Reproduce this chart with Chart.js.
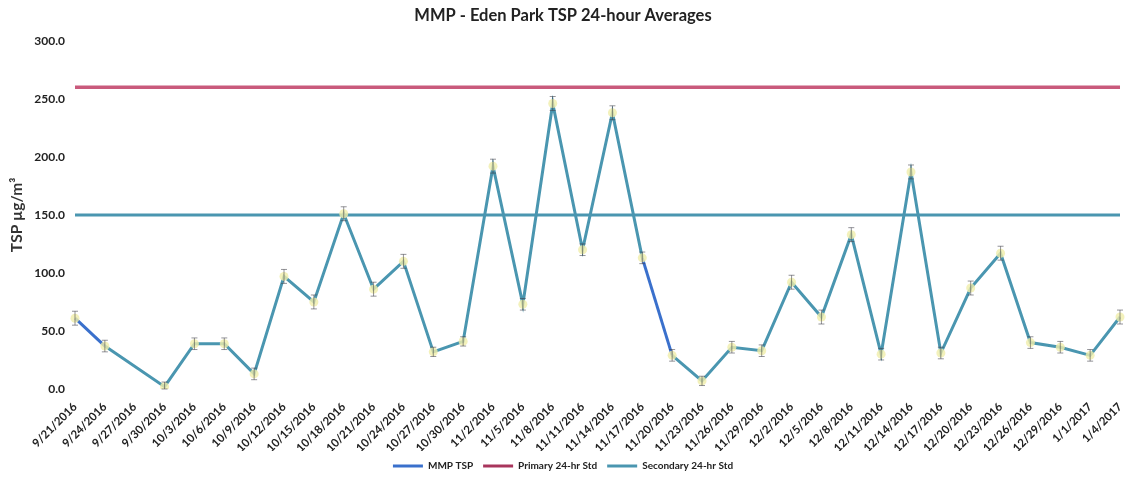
<!DOCTYPE html>
<html>
<head>
<meta charset="utf-8">
<script src="https://cdn.jsdelivr.net/npm/chart.js@4"></script>
<style>
    html, body { margin: 0; padding: 0; background: #fff; }
    #wrap { width: 1127px; height: 481px; }
</style>
</head>
<body>
<div id="wrap"><canvas id="chart-tsp"></canvas></div>
<script>
// Data
const dates = ["9/21/2016","9/24/2016","9/27/2016","9/30/2016","10/3/2016","10/6/2016","10/9/2016","10/12/2016","10/15/2016","10/18/2016","10/21/2016","10/24/2016","10/27/2016","10/30/2016","11/2/2016","11/5/2016","11/8/2016","11/11/2016","11/14/2016","11/17/2016","11/20/2016","11/23/2016","11/26/2016","11/29/2016","12/2/2016","12/5/2016","12/8/2016","12/11/2016","12/14/2016","12/17/2016","12/20/2016","12/23/2016","12/26/2016","12/29/2016","1/1/2017","1/4/2017"];
const tsp = [61, 37, null, 2, 39, 39, 13, 97, 75, 151, 86, 110, 32, 41, 192, 73, 246, 120, 238, 113, 29, 7, 36, 33, 92, 62, 133, 30, 187, 31, 87, 117, 40, 36, 29, 62];
// +/- error shown as small bars
const tspErr = [6, 5, null, 4, 5, 5, 5, 6, 6, 6, 6, 6, 4, 4, 6, 5, 6, 5, 6, 5, 5, 4, 5, 5, 6, 6, 6, 5, 6, 5, 6, 6, 5, 5, 5, 6];
const primaryStd = 260;
const secondaryStd = 150;
// segments that show in the darker blue
const blueSegments = [0, 19];

const FONT = "Lato, 'Liberation Sans', sans-serif";
Chart.defaults.font.family = FONT;
Chart.defaults.color = "#222";

const legendColors = ["#3a70cc", "#a8355c", "#4a96b0"];

// legend items drawn as short lines
function legendLabels(chart) {
    const items = Chart.defaults.plugins.legend.labels.generateLabels(chart);
    items.forEach((item, i) => {
        item.strokeStyle = legendColors[i];
        item.fillStyle = legendColors[i];
        item.lineWidth = 3;
        item.pointStyle = "line";
    });
    return items;
}

// small error bars on the TSP points
const errorBars = {
    id: "errorBars",
    afterDatasetsDraw(chart) {
        const ctx = chart.ctx;
        const y = chart.scales.y;
        const meta = chart.getDatasetMeta(0);
        ctx.save();
        ctx.strokeStyle = "rgba(60,60,70,0.55)";
        ctx.lineWidth = 1;
        meta.data.forEach((pt, i) => {
            if (tsp[i] == null || tspErr[i] == null) return;
            const top = y.getPixelForValue(tsp[i] + tspErr[i]);
            const bot = y.getPixelForValue(Math.max(0, tsp[i] - tspErr[i]));
            ctx.beginPath();
            ctx.moveTo(pt.x, top); ctx.lineTo(pt.x, bot);
            ctx.moveTo(pt.x - 3, top); ctx.lineTo(pt.x + 3, top);
            ctx.moveTo(pt.x - 3, bot); ctx.lineTo(pt.x + 3, bot);
            ctx.stroke();
        });
        ctx.restore();
    }
};

function createLineChart(canvasID) {
    const ctx = document.getElementById(canvasID).getContext('2d');

    const myChart = new Chart(ctx, {
        type: "line",
        data: {
            labels: dates,
            datasets: [{
                label: "MMP TSP",
                data: tsp,
                borderColor: "#4a96b0",
                backgroundColor: "rgba(240,238,170,0.8)",
                borderWidth: 3,
                pointRadius: 4.5,
                pointBorderWidth: 0,
                pointHoverRadius: 5,
                spanGaps: true,
                tension: 0,
                order: 0,
                segment: {
                    borderColor: c => blueSegments.includes(c.p0DataIndex) ? "#3a70cc" : undefined
                }
            }, {
                label: "Primary 24-hr Std",
                data: dates.map(() => primaryStd),
                borderColor: "#c95a7c",
                backgroundColor: "#c95a7c",
                borderWidth: 3.5,
                pointRadius: 0,
                order: 1
            }, {
                label: "Secondary 24-hr Std",
                data: dates.map(() => secondaryStd),
                borderColor: "#4a96b0",
                backgroundColor: "#4a96b0",
                borderWidth: 3,
                pointRadius: 0,
                order: 2
            }]
        },
        options: {
            responsive: true,
            maintainAspectRatio: false,
            animation: false,
            layout: {
                padding: { left: 6, right: 7, top: 0, bottom: 0 }
            },
            plugins: {
                title: {
                    display: true,
                    text: "MMP - Eden Park TSP 24-hour Averages",
                    font: { size: 16.5, weight: "bold" },
                    color: "#222",
                    padding: { top: 6, bottom: 15 }
                },
                legend: {
                    position: "bottom",
                    labels: {
                        usePointStyle: true,
                        pointStyleWidth: 30,
                        boxHeight: 6,
                        font: { size: 10, weight: "bold" },
                        color: "#222",
                        padding: 10,
                        generateLabels: legendLabels
                    }
                },
                tooltip: { enabled: true }
            },
            scales: {
                x: {
                    offset: false,
                    grid: { display: false },
                    border: { display: false },
                    ticks: {
                        autoSkip: false,
                        maxRotation: 45,
                        minRotation: 45,
                        font: { size: 11.5, weight: "bold" },
                        color: "#222",
                        padding: 3
                    },
                    afterFit: scale => { scale.height = 62; scale.paddingRight = 0; }
                },
                y: {
                    min: 0,
                    max: 300,
                    grid: { display: false },
                    border: { display: false },
                    ticks: {
                        stepSize: 50,
                        font: { size: 12, weight: "bold" },
                        color: "#222",
                        padding: 2,
                        callback: v => v.toFixed(1)
                    },
                    title: {
                        display: true,
                        text: "TSP µg/m³",
                        font: { size: 15.5, weight: "bold" },
                        color: "#333",
                        padding: 2
                    },
                    afterFit: scale => { scale.width = 69; }
                }
            }
        },
        plugins: [errorBars]
    });

    return myChart;
}

createLineChart("chart-tsp");
</script>
</body>
</html>
